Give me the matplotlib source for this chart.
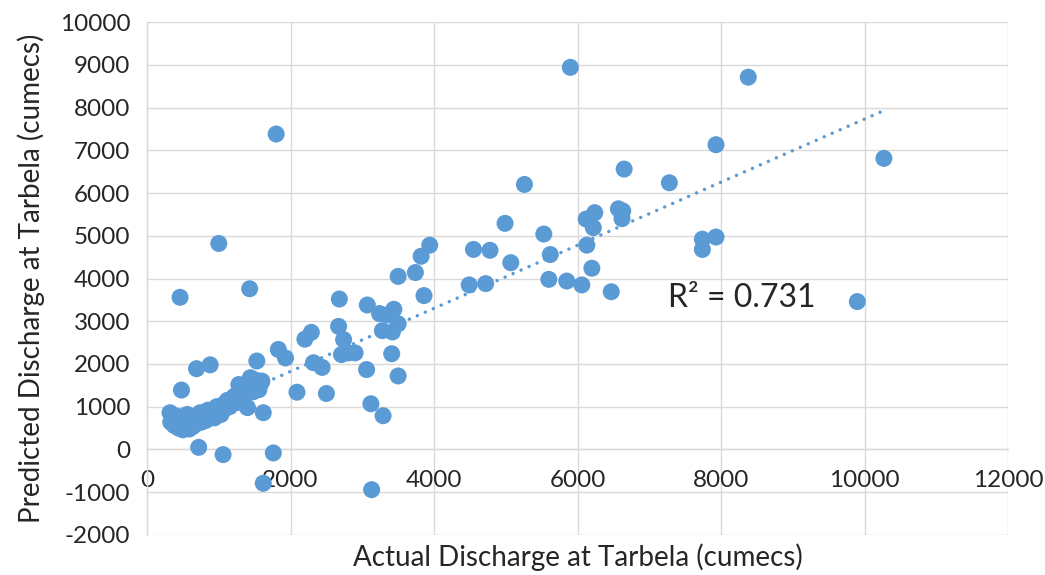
import matplotlib
matplotlib.use("Agg")
import matplotlib.pyplot as plt
import numpy as np

# observed vs predicted discharge (cumecs)
actual = [
    # dense low-flow cluster
    320, 330, 360, 380, 420, 440, 470, 500, 520, 540, 560, 590, 610, 640, 660,
    690, 710, 740, 760, 790, 820, 850, 880, 910, 940, 970, 1000, 1030, 1060,
    1090, 1120, 1150, 1190, 1220, 1260, 1290, 1330, 1370, 1400, 1440, 1480,
    1520, 1560, 1590, 1280, 1440,
    # low-flow stragglers
    720, 1060, 1760, 1620, 1620, 480, 460, 1430, 1000, 1800, 690, 880, 1530,
    1830, 1930, 1600,
    # mid range
    2090, 2500, 3120, 3290, 3130, 2320, 2440, 2200, 2290, 2670, 2740, 2810,
    2710, 2900, 3060, 3410, 3500, 2680, 3070, 3240, 3440, 3350, 3500, 3280,
    3420,
    # upper range
    3500, 3740, 3820, 3940, 3860, 4550, 4780, 4990, 5070, 4490, 4720, 5260,
    5530, 5600, 5850, 5620, 5900, 6060, 6130, 6120, 6240, 6220, 6200, 6470,
    6570, 6630, 6620, 6650, 7280, 7740, 7740, 7930, 7930, 8380, 9900, 10270,
]
predicted = [
    860, 640, 700, 560, 780, 500, 620, 460, 700, 560, 820, 480, 640, 540, 760,
    600, 700, 860, 640, 760, 680, 920, 780, 860, 740, 1000, 900, 820, 1050,
    960, 1150, 1000, 1120, 1250, 1100, 1320, 1200, 1420, 980, 1480, 1350,
    1620, 1400, 1560, 1520, 1680,
    50, -120, -80, 860, -790, 1390, 3560, 3760, 4820, 7380, 1890, 1980, 2070,
    2340, 2140, 1600,
    1340, 1310, 1070, 790, -940, 2030, 1920, 2580, 2740, 2880, 2570, 2260,
    2220, 2260, 1870, 2240, 1720, 3520, 3380, 3180, 3280, 3150, 2940, 2780,
    2750,
    4050, 4140, 4520, 4780, 3600, 4680, 4660, 5290, 4370, 3850, 3880, 6200,
    5040, 3980, 3940, 4560, 8940, 3850, 4780, 5390, 5540, 5190, 4240, 3690,
    5630, 5580, 5400, 6560, 6240, 4920, 4680, 4970, 7130, 8710, 3460, 6810,
]

# linear trendline coefficients and its goodness of fit
trend_slope = 0.738
trend_intercept = 350
r2_label = "R\u00b2 = 0.731"

x_ticks = np.arange(0, 12001, 2000)
y_ticks = np.arange(-2000, 10001, 1000)

blue = "#5B9BD5"
grid_grey = "#D9D9D9"
text_col = "#262626"

plt.rcParams["font.family"] = ["Lato", "DejaVu Sans"]
plt.rcParams["axes.unicode_minus"] = False

fig = plt.figure(figsize=(10.45, 5.75), dpi=100)
ax = fig.add_axes([0.1407, 0.0696, 0.8239, 0.8921])

ax.scatter(actual, predicted, s=150, color=blue, edgecolors="none", zorder=3)

# trendline drawn across the observed range
x_fit = np.array([min(actual), max(actual)])
ax.plot(x_fit, trend_slope * x_fit + trend_intercept, color=blue,
        linewidth=2.5, linestyle=(0, (0.01, 2.5)), dash_capstyle="round",
        zorder=4)

ax.text(7260, 3550, r2_label, fontsize=23, color=text_col,
        ha="left", va="center", zorder=5)

ax.set_xlim(0, 12000)
ax.set_ylim(-2000, 10000)
ax.set_xticks(x_ticks)
ax.set_yticks(y_ticks)
ax.grid(True, color=grid_grey, linewidth=1.0, zorder=0)
ax.set_axisbelow(True)

for side in ["top", "right"]:
    ax.spines[side].set_visible(False)
ax.spines["left"].set_color(grid_grey)
ax.spines["left"].set_linewidth(1.0)
ax.spines["bottom"].set_position(("data", 0))
ax.spines["bottom"].set_color(grid_grey)
ax.spines["bottom"].set_linewidth(1.0)

ax.tick_params(axis="both", length=0, labelsize=17.5, labelcolor=text_col)
ax.tick_params(axis="x", pad=15)
ax.tick_params(axis="y", pad=12)

ax.set_xlabel("Actual Discharge at Tarbela (cumecs)", fontsize=20,
              color=text_col, va="center")
ax.set_ylabel("Predicted Discharge at Tarbela (cumecs)", fontsize=20,
              color=text_col, ha="center", va="center")
ax.xaxis.set_label_coords(0.5, -0.043)
ax.yaxis.set_label_coords(-0.134, 0.5)

fig.savefig("out.png", dpi=100)
plt.close(fig)
